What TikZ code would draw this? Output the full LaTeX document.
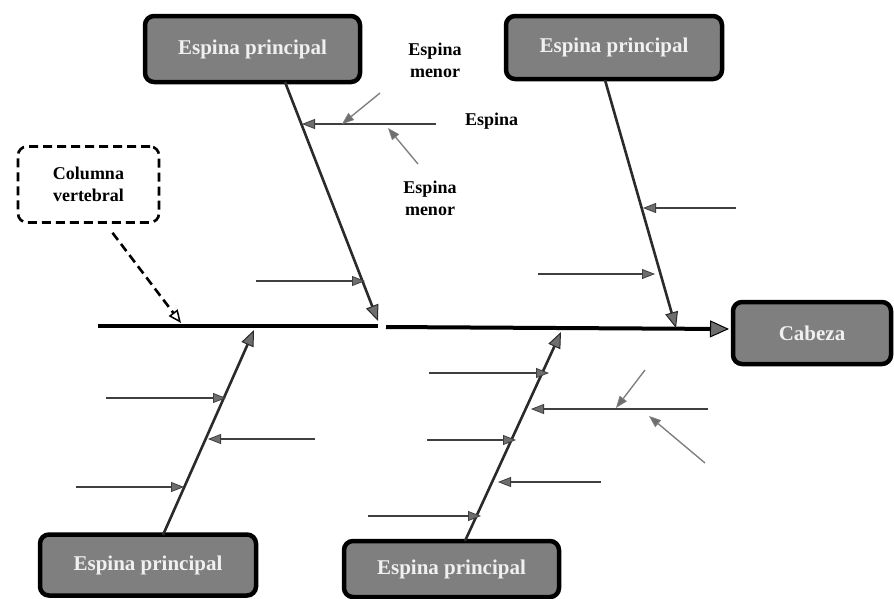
\documentclass[tikz,border=0pt]{standalone}
\usepackage{fontspec}
\setmainfont{Liberation Serif}
\usetikzlibrary{arrows.meta}
\definecolor{boxgray}{HTML}{7F7F7F}
\definecolor{headgray}{HTML}{6E6E6E}
\definecolor{linedark}{HTML}{2A2A2A}
\definecolor{minorgray}{HTML}{808080}
\tikzset{
  bigbox/.style={draw=black, line width=4.5pt, fill=boxgray, rounded corners=9pt,
    text=white!94!black, font=\fontsize{21}{24}\selectfont\bfseries, inner sep=0pt},
  dashbox/.style={draw=black, line width=2.6pt, dash pattern=on 9pt off 5pt, fill=white, rounded corners=9pt,
    align=center, font=\fontsize{18}{22}\selectfont\bfseries, inner sep=0pt},
  lbl/.style={align=center, font=\fontsize{18}{22}\selectfont\bfseries, inner sep=0pt},
  mainline/.style={line width=4pt, black},
  princ/.style={line width=2.6pt, linedark, -{Triangle[length=16pt,width=13pt,fill=headgray,line width=1pt]}},
  small/.style={line width=1.8pt, linedark!90, -{Triangle[length=13pt,width=10pt,fill=headgray,line width=0.8pt]}},
  minorarr/.style={line width=1.4pt, minorgray, -{Triangle[length=12pt,width=9pt,fill=headgray,line width=0.8pt]}},
  dasharr/.style={line width=2.6pt, black, dash pattern=on 9pt off 5pt, -{Triangle[length=13pt,width=11pt,open,line width=1.5pt]}}
}
\begin{document}
\begin{tikzpicture}[x=1pt,y=-1pt]
\useasboundingbox (0,0) rectangle (894,598);
% boxes
\node[bigbox, minimum width=215pt, minimum height=66pt] (p1) at (252.5,49) {Espina principal};
\node[bigbox, minimum width=216pt, minimum height=63pt] (p2) at (614,47.5) {Espina principal};
\node[bigbox, minimum width=216pt, minimum height=61pt] (p3) at (148,565) {Espina principal};
\node[bigbox, minimum width=215pt, minimum height=56pt] (p4) at (451.5,569) {Espina principal};
\node[bigbox, minimum width=158pt, minimum height=62pt] (cab) at (812,333) {Cabeza};
\node[dashbox, minimum width=141pt, minimum height=76pt] (col) at (88.5,184.5) {Columna\\vertebral};
% labels
\node[lbl] (lm1) at (435,60) {Espina\\menor};
\node[lbl, anchor=west] (le) at (465,121) {Espina};
\node[lbl] (lm2) at (430,198) {Espina\\menor};
% main spine
\coordinate (m0) at (98,326);
\coordinate (m1) at (378,326);
\coordinate (m2) at (386,327);
\coordinate (m3) at (729,329);
\draw[mainline] (m0) -- (m1);
\draw[mainline, -{Triangle[length=19pt,width=17pt,fill=headgray,line width=1pt]}] (m2) -- (m3);
% principal spines
\coordinate (e1) at (378,321);
\coordinate (e2) at (676,328);
\coordinate (e3) at (254,330);
\coordinate (e4) at (561,332);
\draw[princ] (285,82) coordinate (s1) -- (e1);
\draw[princ] (605,80) coordinate (s2) -- (e2);
\draw[princ] (163,535) coordinate (s3) -- (e3);
\draw[princ] (465,541) coordinate (s4) -- (e4);
% column arrow
\draw[dasharr] (col.south) ++(24,9) coordinate (c0) -- (181,323) coordinate (c1);
% small spines, top-left
\coordinate (a1s) at (436,124); \coordinate (a1e) at (302,124);
\draw[small] (a1s) -- (a1e);
\draw[minorarr] (380,93) coordinate (n1s) -- (342,124) coordinate (n1e);
\draw[minorarr] (418,164) coordinate (n2s) -- (388,128) coordinate (n2e);
\draw[small] (256,281) coordinate (a2s) -- (365,281) coordinate (a2e);
% top-right
\draw[small] (736,208) coordinate (a3s) -- (643,208) coordinate (a3e);
\draw[small] (538,274) coordinate (a4s) -- (655,274) coordinate (a4e);
% bottom-left
\draw[small] (106,398) coordinate (a5s) -- (226,398) coordinate (a5e);
\draw[small] (315,439) coordinate (a6s) -- (208,439) coordinate (a6e);
\draw[small] (76,487) coordinate (a7s) -- (184,487) coordinate (a7e);
% bottom-middle
\draw[small] (429,373) coordinate (b1s) -- (549,373) coordinate (b1e);
\draw[small] (708,409) coordinate (b2s) -- (531,409) coordinate (b2e);
\draw[minorarr] (645,370) coordinate (n3s) -- (616,408) coordinate (n3e);
\draw[minorarr] (705,463) coordinate (n4s) -- (649,416) coordinate (n4e);
\draw[small] (427,440) coordinate (b3s) -- (516,440) coordinate (b3e);
\draw[small] (601,482) coordinate (b4s) -- (498,482) coordinate (b4e);
\draw[small] (368,516) coordinate (b5s) -- (481,516) coordinate (b5e);
\end{tikzpicture}
\end{document}
